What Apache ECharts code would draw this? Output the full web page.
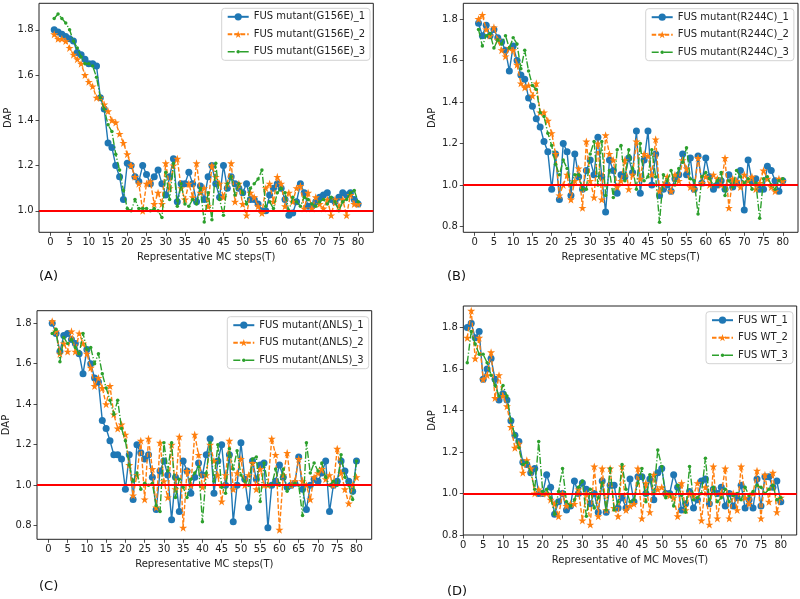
<!DOCTYPE html>
<html>
<head>
<meta charset="utf-8">
<script src="https://cdn.jsdelivr.net/npm/echarts@6/dist/echarts.min.js"></script>
<style>
html,body{margin:0;padding:0;background:#fff;}
#chart{width:800px;height:599px;}
</style>
</head>
<body>
<div id="chart"></div>
<script>
const STEPS = [1,2,3,4,5,6,7,8,9,10,11,12,13,14,15,16,17,18,19,20,21,22,23,24,25,26,27,28,29,30,31,32,33,34,35,36,37,38,39,40,41,42,43,44,45,46,47,48,49,50,51,52,53,54,55,56,57,58,59,60,61,62,63,64,65,66,67,68,69,70,71,72,73,74,75,76,77,78,79,80];

const X_TICKS = [0,5,10,15,20,25,30,35,40,45,50,55,60,65,70,75,80];
const Y_TICKS_A = [1.0,1.2,1.4,1.6,1.8];
const Y_TICKS_BCD = [0.8,1.0,1.2,1.4,1.6,1.8];
const REF_DAP = 1.0;

const NAMES_A = ['FUS mutant(G156E)_1','FUS mutant(G156E)_2','FUS mutant(G156E)_3'];
const NAMES_B = ['FUS mutant(R244C)_1','FUS mutant(R244C)_2','FUS mutant(R244C)_3'];
const NAMES_C = ['FUS mutant(\u0394NLS)_1','FUS mutant(\u0394NLS)_2','FUS mutant(\u0394NLS)_3'];
const NAMES_D = ['FUS WT_1','FUS WT_2','FUS WT_3'];
const PANEL_LABELS = ['(A)','(B)','(C)','(D)'];
const XLABEL_STEPS = 'Representative MC steps(T)';
const XLABEL_MOVES = 'Representative of MC Moves(T)';
const YLABEL = 'DAP';

const A1 = [1.80,1.79,1.78,1.77,1.76,1.75,1.70,1.69,1.67,1.65, 1.65,1.64,1.50,1.45,1.30,1.28,1.20,1.15,1.05,1.21, 1.20,1.15,1.13,1.20,1.16,1.12,1.15,1.18,1.12,1.07, 1.15,1.23,1.04,1.12,1.12,1.17,1.12,1.04,1.11,1.05, 1.15,1.20,1.12,1.06,1.20,1.10,1.15,1.12,1.10,1.08, 1.12,1.05,1.05,1.03,1.00,1.00,1.07,1.10,1.12,1.10, 1.05,0.98,0.99,1.04,1.12,1.08,1.02,1.02,1.04,1.06, 1.07,1.08,1.05,1.04,1.06,1.08,1.07,1.08,1.05,1.03];
const A2 = [1.78,1.76,1.76,1.75,1.72,1.69,1.67,1.65,1.60,1.57, 1.55,1.50,1.50,1.47,1.44,1.40,1.39,1.34,1.30,1.25, 1.20,1.15,1.12,1.00,1.12,1.13,1.03,1.08,1.03,1.21, 1.10,1.20,1.23,1.10,1.05,1.12,1.06,1.21,1.08,1.10, 1.02,1.20,1.15,1.12,1.06,1.12,1.21,1.04,1.12,1.03, 0.98,1.08,1.06,1.02,0.99,1.10,1.12,1.04,1.15,1.12, 1.02,1.08,1.04,1.10,1.11,1.01,1.08,1.01,1.06,1.03, 1.01,1.05,0.98,1.05,1.02,1.05,0.98,1.07,1.03,1.03];
const A3 = [1.85,1.87,1.85,1.83,1.80,1.75,1.72,1.68,1.65,1.65, 1.64,1.59,1.50,1.45,1.38,1.35,1.25,1.18,1.09,1.01, 1.00,1.05,1.01,1.01,1.01,1.00,1.01,1.00,0.97,1.17, 1.05,1.21,1.02,1.12,1.03,1.02,1.05,1.03,1.10,0.95, 1.08,0.96,1.21,1.05,0.98,1.12,1.15,1.07,1.12,1.08, 1.03,1.10,1.12,1.14,1.18,1.02,1.04,1.01,1.08,1.10, 1.08,1.00,1.06,1.04,1.02,1.06,1.05,1.03,1.02,1.04, 1.05,1.03,1.06,1.04,1.00,1.04,1.05,1.08,1.09,1.04];

const B1 = [1.78,1.72,1.77,1.72,1.75,1.71,1.69,1.65,1.55,1.67, 1.60,1.53,1.51,1.42,1.38,1.32,1.28,1.21,1.16,0.98, 1.15,0.93,1.20,1.16,0.95,1.15,1.04,0.98,1.07,1.12, 1.05,1.23,1.04,0.87,1.12,1.07,0.96,1.05,1.04,1.13, 1.06,1.26,0.96,1.12,1.26,1.00,1.15,0.95,0.98,1.00, 0.97,1.03,1.05,1.15,1.05,1.13,0.98,1.14,1.01,1.13, 1.04,0.98,1.00,1.02,0.98,1.05,0.99,1.01,1.07,0.88, 1.12,1.02,1.03,0.98,0.98,1.09,1.07,1.02,0.97,1.02];
const B2 = [1.80,1.82,1.75,1.72,1.76,1.70,1.65,1.62,1.66,1.65, 1.58,1.49,1.47,1.48,1.43,1.49,1.35,1.35,1.31,1.25, 1.15,0.95,1.00,1.05,0.93,1.02,1.08,0.89,1.21,1.02, 0.94,1.20,0.93,1.24,1.15,1.12,0.99,1.02,1.12,0.98, 1.05,1.21,1.03,1.15,1.14,1.05,1.22,0.97,1.00,1.04, 0.97,1.05,1.02,1.12,1.08,0.99,0.98,1.13,1.01,1.04, 1.00,1.05,1.03,1.00,1.13,0.89,1.03,1.02,0.99,1.05, 1.02,1.04,0.98,1.01,1.07,1.03,0.99,0.97,1.03,1.02];
const B3 = [1.75,1.67,1.72,1.73,1.66,1.70,1.68,1.72,1.66,1.71, 1.68,1.56,1.65,1.55,1.48,1.46,1.35,1.33,1.25,1.19, 1.10,1.05,1.12,1.08,1.00,1.05,1.05,0.98,0.98,1.15, 1.21,1.00,1.21,0.95,1.07,0.94,1.17,1.19,1.02,1.17, 1.08,0.98,1.20,1.02,1.04,1.17,1.04,0.82,1.05,1.02, 1.07,1.00,1.08,1.11,1.18,1.03,1.02,0.86,1.04,1.06, 1.03,1.00,1.02,1.06,0.95,1.02,0.99,1.07,1.04,1.01, 1.03,0.98,1.01,0.84,1.03,1.04,1.00,0.98,1.02,1.03];

const C1 = [1.80,1.75,1.66,1.74,1.75,1.72,1.70,1.65,1.55,1.67, 1.60,1.53,1.51,1.32,1.28,1.22,1.15,1.15,1.13,0.98, 1.15,0.93,1.20,1.16,1.13,1.15,1.04,0.88,1.07,1.12, 1.05,0.83,1.04,0.87,1.12,1.07,0.96,1.04,1.11,1.05, 1.15,1.23,0.96,1.12,1.20,1.00,1.15,0.82,1.00,1.21, 1.03,0.89,1.12,1.03,1.10,1.11,0.79,1.00,1.02,1.10, 1.04,0.99,1.00,1.01,1.14,0.98,0.88,1.00,1.03,1.02, 1.06,1.12,0.87,1.00,1.02,1.12,1.07,1.02,0.97,1.12];
const C2 = [1.81,1.76,1.65,1.70,1.66,1.76,1.66,1.75,1.70,1.65, 1.58,1.49,1.53,1.48,1.40,1.49,1.35,1.28,1.30,1.25, 1.10,0.95,1.05,1.22,0.93,1.23,1.08,0.89,1.21,1.02, 0.94,1.20,0.98,1.24,0.79,1.07,1.00,1.25,1.15,0.99, 1.05,1.20,1.12,1.05,0.92,1.05,1.22,0.98,1.06,1.13, 1.00,1.05,1.11,0.98,1.08,1.00,1.00,1.23,1.15,0.78, 1.05,1.16,1.00,1.02,1.13,1.02,1.00,0.93,1.04,1.06, 1.08,1.03,1.05,1.00,1.18,1.06,0.98,0.91,1.00,1.04];
const C3 = [1.75,1.77,1.61,1.73,1.70,1.72,1.68,1.65,1.75,1.67, 1.68,1.60,1.65,1.55,1.48,1.42,1.35,1.42,1.28,1.22, 1.10,1.02,1.06,0.98,1.01,1.00,1.01,0.90,0.87,1.21, 1.07,1.21,0.94,1.03,0.99,0.94,1.03,1.06,1.09,0.82, 1.06,1.21,1.02,1.20,0.99,0.96,1.18,1.08,1.17,1.05, 1.02,1.00,1.13,1.14,0.92,1.11,1.00,1.00,1.08,1.00, 1.08,0.97,1.00,1.01,1.00,0.85,1.21,1.06,1.11,1.07, 1.11,1.04,1.00,1.02,1.00,1.15,1.04,1.00,0.93,1.12];

const D1 = [1.80,1.82,1.75,1.78,1.55,1.60,1.65,1.55,1.45,1.48, 1.45,1.35,1.28,1.25,1.15,1.14,1.10,1.12,1.00,1.00, 1.09,1.03,0.90,0.96,1.00,0.92,0.94,1.06,1.00,1.05, 1.02,0.95,1.00,0.91,1.06,0.91,1.04,1.04,0.93,0.98, 0.93,1.07,0.96,1.08,1.08,1.00,1.07,0.97,1.10,1.12, 1.00,1.00,1.09,1.03,0.92,0.95,1.01,0.93,0.97,1.06, 1.07,0.95,1.02,1.00,1.03,0.94,1.00,0.94,0.98,1.04, 0.93,0.97,0.93,1.07,0.94,1.08,1.08,1.03,1.06,0.96];
const D2 = [1.75,1.88,1.65,1.75,1.55,1.57,1.68,1.46,1.57,1.47, 1.42,1.32,1.22,1.24,1.10,1.16,1.12,1.00,1.02,1.00, 1.00,0.97,0.95,0.89,1.00,0.94,0.95,0.95,1.02,0.87, 1.00,0.85,1.13,0.89,1.12,0.92,1.12,0.93,0.89,1.13, 0.92,0.94,0.95,1.12,0.88,1.05,0.91,1.09,1.02,1.03, 1.00,0.99,0.98,0.89,1.05,0.92,1.00,0.99,1.05,0.87, 1.03,0.85,1.13,0.88,1.00,1.12,0.88,1.00,0.92,1.13, 0.98,0.95,1.00,1.11,0.88,1.09,0.96,1.10,0.91,0.98];
const D3 = [1.63,1.78,1.72,1.67,1.67,1.63,1.57,1.52,1.47,1.52, 1.47,1.35,1.28,1.22,1.14,1.15,1.10,1.02,1.25,1.01, 1.02,0.98,0.90,1.01,1.12,0.96,0.94,0.97,1.03,1.06, 0.89,1.02,0.93,0.98,1.05,0.92,1.12,0.92,0.96,1.14, 1.02,0.96,0.97,1.05,1.12,0.96,1.09,1.00,1.21,1.13, 0.98,1.00,0.94,1.04,0.99,0.91,1.13,0.97,0.98,1.00, 1.17,0.97,1.03,0.96,0.98,1.02,0.96,0.99,1.00,0.97, 1.03,0.99,1.01,1.04,1.03,1.00,1.02,1.04,0.97,0.98];

const FONT = 'DejaVu Sans';
const TXT = '#222';
const STAR = 'path://M50,0 L61.8,35.1 L98.9,35.1 L69,56.8 L80.3,91.9 L50,70.2 L19.7,91.9 L31,56.8 L1.1,35.1 L38.2,35.1 Z';
// legend icon for the third series: dash-dot line sample with a small dot marker in the middle
const DASHDOT_DOT_ICON = 'path://M0,0 M210,90 M0,38 L70,38 L70,52 L0,52 Z M88,38 L100,38 L100,52 L88,52 Z M122,38 L210,38 L210,52 L122,52 Z M105,28 A17,17 0 1,1 105,62 A17,17 0 1,1 105,28 Z';

const panels = [
  {grid:{left:39, top:3.3, width:334.3, height:229}, xr:[-2.95,83.95], yr:[0.905,1.917], yt:Y_TICKS_A, names:NAMES_A, data:[A1,A2,A3], xlabel:XLABEL_STEPS, legend:{left:221.7, top:8.3}, nameGapY:24},
  {grid:{left:463.3, top:3.3, width:334.7, height:229}, xr:[-2.95,83.95], yr:[0.772,1.876], yt:Y_TICKS_BCD, names:NAMES_B, data:[B1,B2,B3], xlabel:XLABEL_STEPS, legend:{left:645.7, top:8.7}, nameGapY:26},
  {grid:{left:37, top:310.7, width:334.7, height:228.6}, xr:[-2.95,83.95], yr:[0.733,1.862], yt:Y_TICKS_BCD, names:NAMES_C, data:[C1,C2,C3], xlabel:XLABEL_STEPS, legend:{left:227.3, top:316.7}, nameGapY:26},
  {grid:{left:463.3, top:306, width:333.4, height:229}, xr:[0,84], yr:[0.8,1.903], yt:Y_TICKS_BCD, names:NAMES_D, data:[D1,D2,D3], xlabel:XLABEL_MOVES, legend:{left:706, top:311.7}, nameGapY:26}
];

const styles = [
  {color:'#1f77b4', symbol:'circle', symbolSize:7, lineType:'solid'},
  {color:'#ff7f0e', symbol:STAR, symbolSize:8, lineType:[4.5,2]},
  {color:'#2ca02c', symbol:'circle', symbolSize:3.5, lineType:[7,2,1.2,2]}
];

const grids = [], xAxes = [], yAxes = [], series = [], legends = [];
panels.forEach((p, i) => {
  grids.push(Object.assign({show:true, borderColor:'#222', borderWidth:1, backgroundColor:'transparent', containLabel:false}, p.grid));
  xAxes.push({
    gridIndex:i, type:'value', min:p.xr[0], max:p.xr[1],
    name:p.xlabel, nameLocation:'middle', nameGap:20.5,
    nameTextStyle:{fontFamily:FONT, fontSize:10, color:TXT},
    axisLine:{show:false, onZero:false},
    axisTick:{show:true, length:3.5, lineStyle:{color:'#222', width:0.8}, customValues:X_TICKS},
    axisLabel:{fontFamily:FONT, fontSize:10, color:TXT, margin:5.5, customValues:X_TICKS},
    splitLine:{show:false}
  });
  yAxes.push({
    gridIndex:i, type:'value', min:p.yr[0], max:p.yr[1],
    name:YLABEL, nameLocation:'middle', nameGap:p.nameGapY, nameRotate:90,
    nameTextStyle:{fontFamily:FONT, fontSize:10, color:TXT},
    axisLine:{show:false, onZero:false},
    axisTick:{show:true, length:3.5, lineStyle:{color:'#222', width:0.8}, customValues:p.yt},
    axisLabel:{fontFamily:FONT, fontSize:10, color:TXT, margin:5.5, customValues:p.yt, formatter:v => Number(v).toFixed(1)},
    splitLine:{show:false}
  });
  p.data.forEach((vals, k) => {
    const st = styles[k];
    const s = {
      type:'line', name:p.names[k], xAxisIndex:i, yAxisIndex:i,
      data: STEPS.map((t, j) => [t, vals[j]]),
      symbol:st.symbol, symbolSize:st.symbolSize, showAllSymbol:true,
      itemStyle:{color:st.color, borderWidth:0},
      lineStyle:{color:st.color, width:1.4, type:st.lineType},
      emphasis:{disabled:true}, z:2+k
    };
    if (k === 2) {
      s.markLine = {
        silent:true, symbol:'none', label:{show:false}, z:10,
        lineStyle:{color:'#ff0000', width:1.8, type:'solid'},
        emphasis:{disabled:true},
        data:[{yAxis:REF_DAP}]
      };
    }
    series.push(s);
  });
  legends.push({
    data:[{name:p.names[0]}, {name:p.names[1]}, {name:p.names[2], icon:DASHDOT_DOT_ICON}],
    orient:'vertical', left:p.legend.left, top:p.legend.top,
    itemWidth:21, itemHeight:9, itemGap:7.5, padding:[3.5,5,3.5,5],
    borderColor:'#d3d3d3', borderWidth:1, borderRadius:3, backgroundColor:'rgba(255,255,255,0.8)',
    textStyle:{fontFamily:FONT, fontSize:10, color:TXT}, selectedMode:false
  });
});

const panelPos = [[39,270.5],[447,270.5],[39,580.5],[447,585.5]];
const graphics = PANEL_LABELS.map((t, i) => ({
  type:'text', left:panelPos[i][0], top:panelPos[i][1],
  style:{text:t, fontFamily:FONT, fontSize:13, fill:'#111'}
}));

const chart = echarts.init(document.getElementById('chart'), null, {renderer:'canvas'});
chart.setOption({
  animation:false,
  backgroundColor:'#fff',
  grid:grids, xAxis:xAxes, yAxis:yAxes, series:series, legend:legends,
  graphic:graphics
});
</script>
</body>
</html>
